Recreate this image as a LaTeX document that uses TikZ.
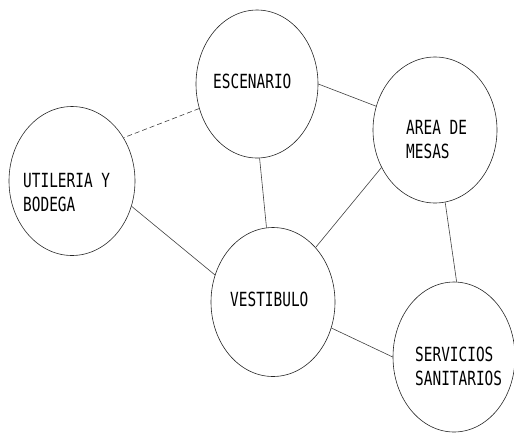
\documentclass[tikz,border=0pt]{standalone}
\usepackage{fontspec}
\newfontfamily\cadfont[FakeStretch=0.74]{DejaVu Sans Mono}
\usetikzlibrary{shapes.geometric}
\begin{document}
\begin{tikzpicture}[x=1pt,y=-1pt,
  room/.style={ellipse,draw=black!85,line width=0.6pt,inner sep=0pt,fill=none},
  lbl/.style={font=\cadfont\fontsize{19.5}{24}\selectfont,inner sep=0pt,anchor=north west,align=left,text=black},
  link/.style={draw=black!75,line width=0.6pt},
  dlink/.style={link,dash pattern=on 5pt off 3pt}]
\useasboundingbox (0,0) rectangle (514,432);
\node[room,minimum width=122pt,minimum height=148pt] (esc) at (257,84) {};
\node[room,minimum width=126pt,minimum height=149pt] (uti) at (72,181) {};
\node[room,minimum width=124pt,minimum height=146pt] (are) at (435,130) {};
\node[room,minimum width=124pt,minimum height=149pt] (ves) at (273,302) {};
\node[room,minimum width=122pt,minimum height=150pt] (ser) at (454,357) {};
\node[lbl] (escT) at (213,74) {ESCENARIO};
\node[lbl] (utiT) at (23,173) {UTILERIA Y\\BODEGA};
\node[lbl] (areT) at (406,120) {AREA DE\\MESAS};
\node[lbl] (vesT) at (230,292) {VESTIBULO};
\node[lbl] (serT) at (415,347) {SERVICIOS\\SANITARIOS};
\draw[dlink] (esc.203) -- (uti.40);
\draw[link] (esc.0) -- (are.158);
\draw[link] (esc.272) -- (ves.95);
\draw[link] (uti.-23) -- (ves.155);
\draw[link] (are.215) -- (ves.52);
\draw[link] (are.278) -- (ser.88);
\draw[link] (ves.-24) -- (ser.180);
\end{tikzpicture}
\end{document}
